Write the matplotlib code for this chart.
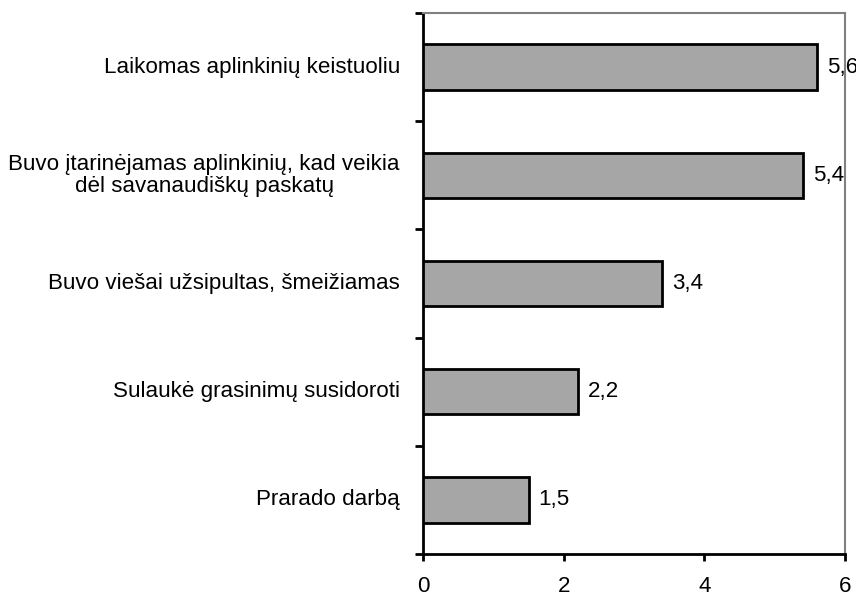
import matplotlib.pyplot as plt
import numpy as np

# data (top to bottom as shown in the chart)
categories = [
    "Laikomas aplinkinių keistuoliu",
    "Buvo įtarinėjamas aplinkinių, kad veikia\ndėl savanaudiškų paskatų",
    "Buvo viešai užsipultas, šmeižiamas",
    "Sulaukė grasinimų susidoroti",
    "Prarado darbą",
]
values = [5.6, 5.4, 3.4, 2.2, 1.5]
value_labels = ["5,6", "5,4", "3,4", "2,2", "1,5"]
x_ticks = [0, 2, 4, 6]

plt.rcParams['font.family'] = ['Liberation Sans', 'DejaVu Sans']
fs = 16.1

fig = plt.figure(figsize=(8.56, 5.98), dpi=100)
ax = fig.add_axes([423 / 856, 1 - 554 / 598, 422 / 856, 541 / 598])

n = len(categories)
ypos = np.arange(n)[::-1]  # first category at top
ax.barh(ypos, values, height=0.42, color='#a6a6a6', edgecolor='black', linewidth=2, zorder=3)

for y, v, lab in zip(ypos, values, value_labels):
    ax.annotate(lab, (v, y), xytext=(10, 0), textcoords='offset pixels',
                ha='left', va='center', fontsize=fs, annotation_clip=False)

# category labels, right aligned, centered lines
for y, cat in zip(ypos, categories):
    ax.annotate(cat, (0, y), xytext=(-23, 0), textcoords='offset pixels',
                ha='right', va='center', multialignment='center',
                fontsize=fs, linespacing=1.05)

ax.set_xlim(0, 6)
ax.set_ylim(-0.5, n - 0.5)
ax.set_xticks(x_ticks)
ax.set_xticklabels([str(t) for t in x_ticks], fontsize=fs)
ax.set_yticks(np.arange(n + 1) - 0.5)
ax.set_yticklabels([])

ax.tick_params(axis='y', direction='out', length=6, width=2, left=True)
ax.tick_params(axis='x', direction='out', length=5, width=2, pad=11)

for side in ['left', 'bottom']:
    ax.spines[side].set_color('black')
    ax.spines[side].set_linewidth(2)
for side in ['top', 'right']:
    ax.spines[side].set_color('#808080')
    ax.spines[side].set_linewidth(1.5)

fig.savefig('out.png', dpi=100)
